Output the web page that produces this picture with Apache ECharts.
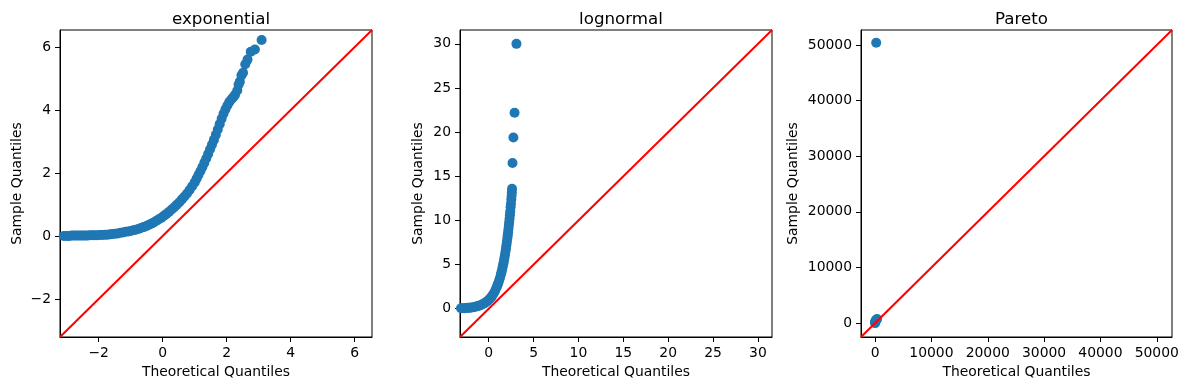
<!DOCTYPE html>
<html>
<head>
<meta charset="utf-8">
<script src="https://cdn.jsdelivr.net/npm/echarts@6/dist/echarts.min.js"></script>
<style>
html,body{margin:0;padding:0;background:#fff;}
#chart{width:1187px;height:390px;}
</style>
</head>
<body>
<div id="chart"></div>
<script>
// ---- Data ----
const titles = ["exponential", "lognormal", "Pareto"];
const xAxisName = "Theoretical Quantiles";
const yAxisName = "Sample Quantiles";

// Exponential: [theoretical quantile, sample quantile]
const expPoints = [
  [-3.09,0.00],[-3.00,0.00],[-2.92,0.00],[-2.84,0.01],[-2.76,0.01],[-2.68,0.01],
  [-2.60,0.01],[-2.52,0.01],[-2.44,0.01],[-2.36,0.01],[-2.28,0.02],[-2.20,0.02],
  [-2.12,0.02],[-2.04,0.02],[-1.96,0.03],[-1.88,0.03],[-1.80,0.04],[-1.72,0.04],
  [-1.64,0.05],[-1.56,0.06],[-1.48,0.07],[-1.40,0.08],[-1.32,0.10],[-1.24,0.11],
  [-1.16,0.13],[-1.08,0.14],[-1.00,0.16],[-0.92,0.18],[-0.84,0.20],[-0.76,0.22],
  [-0.68,0.25],[-0.60,0.28],[-0.52,0.31],[-0.44,0.35],[-0.36,0.39],[-0.28,0.43],
  [-0.20,0.48],[-0.12,0.53],[-0.04,0.58],[0.04,0.64],[0.12,0.70],[0.20,0.77],
  [0.28,0.84],[0.36,0.91],[0.44,0.99],[0.52,1.07],[0.60,1.16],[0.68,1.25],
  [0.76,1.35],[0.84,1.46],[0.92,1.58],[1.00,1.70],[1.06,1.82],[1.12,1.94],
  [1.18,2.06],[1.24,2.19],[1.30,2.32],[1.36,2.46],[1.42,2.60],[1.48,2.75],
  [1.54,2.90],[1.60,3.05],[1.66,3.21],[1.72,3.38],[1.78,3.55],[1.84,3.72],
  [1.90,3.88],[1.96,4.02],[2.02,4.14],[2.08,4.25],[2.14,4.33],[2.20,4.40],
  [2.26,4.48],[2.33,4.62],[2.37,4.80],[2.41,4.90],[2.46,5.10],[2.51,5.18],
  [2.58,5.45],[2.65,5.60],[2.75,5.85],[2.88,5.92],[3.09,6.22]
];

// Lognormal
const lognormPoints = [
  [-3.09,0.05],[-2.90,0.06],[-2.70,0.07],[-2.50,0.08],[-2.30,0.10],[-2.10,0.12],
  [-1.90,0.15],[-1.70,0.18],[-1.50,0.22],[-1.30,0.27],[-1.10,0.33],[-0.90,0.41],
  [-0.70,0.50],[-0.50,0.61],[-0.30,0.74],[-0.10,0.90],[0.10,1.11],[0.25,1.28],
  [0.40,1.49],[0.55,1.73],[0.70,2.01],[0.85,2.34],[0.95,2.59],[1.05,2.86],
  [1.15,3.16],[1.25,3.49],[1.35,3.86],[1.42,4.14],[1.50,4.48],[1.57,4.81],
  [1.64,5.16],[1.70,5.47],[1.76,5.81],[1.82,6.17],[1.88,6.55],[1.93,6.89],
  [1.98,7.24],[2.03,7.61],[2.08,8.00],[2.12,8.33],[2.16,8.67],[2.20,9.03],
  [2.24,9.39],[2.28,9.78],[2.32,10.2],[2.36,10.6],[2.40,11.0],[2.44,11.5],
  [2.48,11.9],[2.52,12.4],[2.55,12.8],[2.58,13.2],[2.60,13.6],
  [2.65,16.5],[2.75,19.4],[2.88,22.2],[3.09,30.0]
];

// Pareto
const paretoPoints = [
  [0,0],[0,100],[30,200],[60,300],[100,400],[160,500],[250,620],[350,750],
  [200,50400]
];

// Axis limits and ticks
const expRange = [-3.21, 6.54];
const lognormRange = [-3.2, 31.57];
const paretoRange = [-2500, 52700];
const expTicks = [-2, 0, 2, 4, 6];
const lognormTicks = [0, 5, 10, 15, 20, 25, 30];
const paretoTicks = [0, 10000, 20000, 30000, 40000, 50000];

// ---- Layout / style ----
const FONT = "DejaVu Sans";
const grids = [
  {left: 60, top: 30, width: 312, height: 307},
  {left: 460, top: 30, width: 312, height: 307},
  {left: 861, top: 30, width: 311, height: 307}
];
const yNameGaps = [36, 35, 61];
const panels = [
  {pts: expPoints, range: expRange, ticks: expTicks},
  {pts: lognormPoints, range: lognormRange, ticks: lognormTicks},
  {pts: paretoPoints, range: paretoRange, ticks: paretoTicks}
];

function fmt(v) {
  return (v < 0 ? "\u2212" : "") + Math.abs(v);
}

function axis(i, isX) {
  const p = panels[i];
  return {
    type: "value",
    gridIndex: i,
    min: p.range[0],
    max: p.range[1],
    name: isX ? xAxisName : yAxisName,
    nameLocation: "middle",
    nameGap: isX ? 27 : yNameGaps[i],
    nameTextStyle: {fontFamily: FONT, fontSize: 13.9, color: "#000"},
    axisLine: {show: true, onZero: false, lineStyle: {color: "#000", width: 1}},
    axisTick: {show: true, inside: false, length: 5, customValues: p.ticks,
               lineStyle: {color: "#000", width: 1}},
    axisLabel: {show: true, customValues: p.ticks, margin: 9, formatter: fmt,
                fontFamily: FONT, fontSize: 13.9, color: "#000"},
    splitLine: {show: false}
  };
}

const option = {
  animation: false,
  backgroundColor: "#fff",
  title: titles.map((t, i) => ({
    text: t,
    left: grids[i].left + grids[i].width / 2,
    top: 6,
    textAlign: "center",
    textStyle: {fontFamily: FONT, fontSize: 16.7, fontWeight: "normal", color: "#000"}
  })),
  grid: grids.map(g => Object.assign({show: true, borderColor: "#000", borderWidth: 1,
                                      backgroundColor: "#fff", containLabel: false}, g)),
  xAxis: [0, 1, 2].map(i => axis(i, true)),
  yAxis: [0, 1, 2].map(i => axis(i, false)),
  series: []
};

panels.forEach((p, i) => {
  option.series.push({
    type: "scatter",
    xAxisIndex: i, yAxisIndex: i,
    data: p.pts,
    symbol: "circle",
    symbolSize: 10,
    itemStyle: {color: "#1f77b4", opacity: 1},
    silent: true
  });
  option.series.push({
    type: "line",
    xAxisIndex: i, yAxisIndex: i,
    data: [[p.range[0], p.range[0]], [p.range[1], p.range[1]]],
    symbol: "none",
    lineStyle: {color: "#ff0000", width: 2},
    clip: true,
    silent: true
  });
});

const chart = echarts.init(document.getElementById("chart"), null, {renderer: "canvas"});
chart.setOption(option);
</script>
</body>
</html>
